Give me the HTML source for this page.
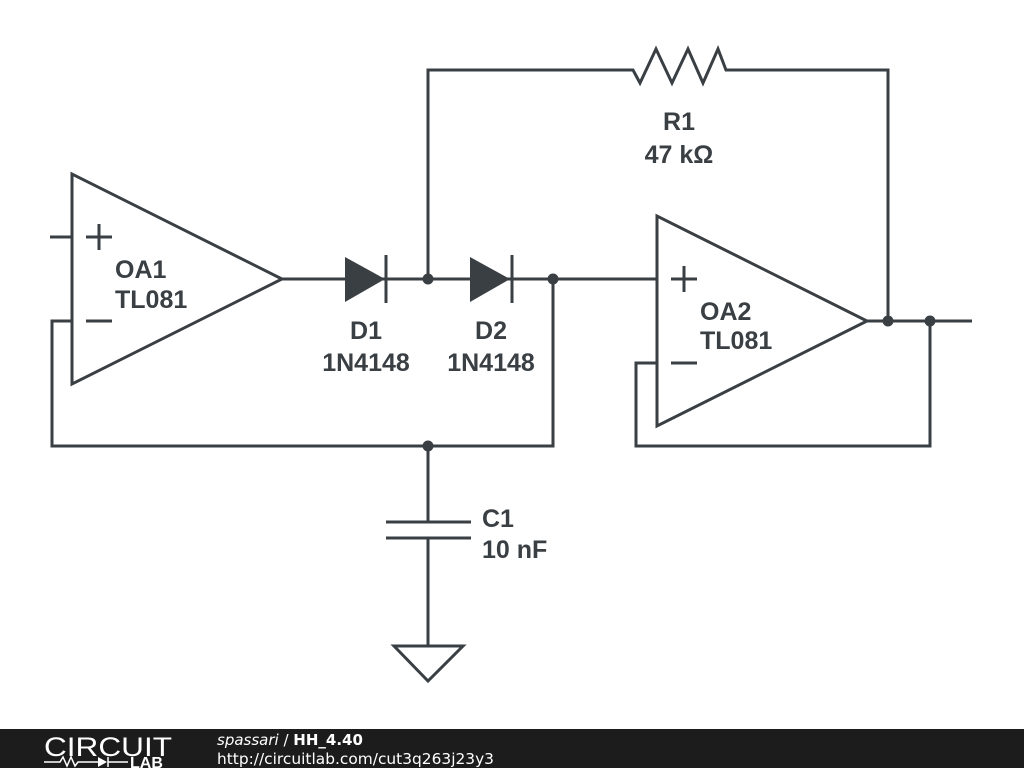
<!DOCTYPE html>
<html><head><style>body{margin:0;width:1024px;height:768px;overflow:hidden;background:#fff}</style></head><body>
<svg width="1024" height="768" viewBox="0 0 1024 768" xmlns="http://www.w3.org/2000/svg">
<g stroke="#3a3f44" stroke-width="3" fill="none">
<polygon points="72,174 72,384 282,279"/>
<line x1="50" y1="237" x2="72" y2="237"/>
<line x1="86" y1="237" x2="112" y2="237"/><line x1="99" y1="224" x2="99" y2="250"/>
<line x1="86" y1="321" x2="112" y2="321"/>
<polyline points="72,321 52,321 52,446 553,446 553,279"/>
<line x1="282" y1="279" x2="657" y2="279"/>
<line x1="386" y1="255" x2="386" y2="303"/>
<line x1="512" y1="255" x2="512" y2="303"/>
<polyline points="428,279 428,70 633,70 640,83 656,49 672,83 688,49 703,83 718,49 726,70 888,70 888,321"/>
<polygon points="657,216 657,426 867,321"/>
<line x1="671" y1="279" x2="697" y2="279"/><line x1="684" y1="266" x2="684" y2="292"/>
<line x1="671" y1="363" x2="697" y2="363"/>
<polyline points="657,363 636,363 636,446 930,446 930,321"/>
<line x1="867" y1="321" x2="972" y2="321"/>
<line x1="428" y1="446" x2="428" y2="522"/>
<line x1="386" y1="522" x2="471" y2="522"/>
<line x1="386" y1="538" x2="471" y2="538"/>
<line x1="428" y1="538" x2="428" y2="646"/>
<polygon points="394,646 463,646 428,681"/>
</g>
<g fill="#3a3f44">
<polygon points="345,257 345,302 385,279"/>
<polygon points="470,257 470,302 510,279"/>
<circle cx="428" cy="279" r="5.5"/><circle cx="553" cy="279" r="5.5"/>
<circle cx="428" cy="446" r="5.5"/><circle cx="888" cy="321" r="5.5"/><circle cx="930" cy="321" r="5.5"/>
</g>
<g fill="#3a3f44" font-family="Liberation Sans, sans-serif" font-weight="bold" font-size="25">
<text x="115" y="278">OA1</text><text x="115" y="308">TL081</text>
<text x="700" y="320">OA2</text><text x="700" y="349">TL081</text>
<text x="366" y="339" text-anchor="middle">D1</text><text x="366" y="371" text-anchor="middle">1N4148</text>
<text x="491" y="339" text-anchor="middle">D2</text><text x="491" y="371" text-anchor="middle">1N4148</text>
<text x="679" y="130" text-anchor="middle">R1</text><text x="679" y="163" text-anchor="middle">47 kΩ</text>
<text x="482" y="527">C1</text><text x="482" y="558">10 nF</text>
</g>
<rect x="0" y="729" width="1024" height="39" fill="#1c1c1c"/>
<text x="44" y="756" fill="#fff" font-family="Liberation Sans, sans-serif" font-size="27" textLength="128" lengthAdjust="spacingAndGlyphs">CIRCUIT</text>
<g stroke="#fff" stroke-width="1.5" fill="none"><polyline points="44,762 60,762 63,757 67,766 71,757 75,766 78,762 100,762"/><line x1="108" y1="757" x2="108" y2="767"/><line x1="108" y1="762" x2="128" y2="762"/></g>
<polygon points="98,757 98,767 107,762" fill="#fff"/>
<text x="130" y="768" fill="#fff" font-family="Liberation Sans, sans-serif" font-size="16" font-weight="bold">LAB</text>
<text x="217" y="745" fill="#fff" font-family="DejaVu Sans, sans-serif" font-size="15"><tspan font-style="italic">spassari</tspan> / <tspan font-weight="bold">HH_4.40</tspan></text>
<text x="217" y="764" fill="#fff" font-family="DejaVu Sans, sans-serif" font-size="15" textLength="277" lengthAdjust="spacingAndGlyphs">http://circuitlab.com/cut3q263j23y3</text>
</svg>
</body></html>
